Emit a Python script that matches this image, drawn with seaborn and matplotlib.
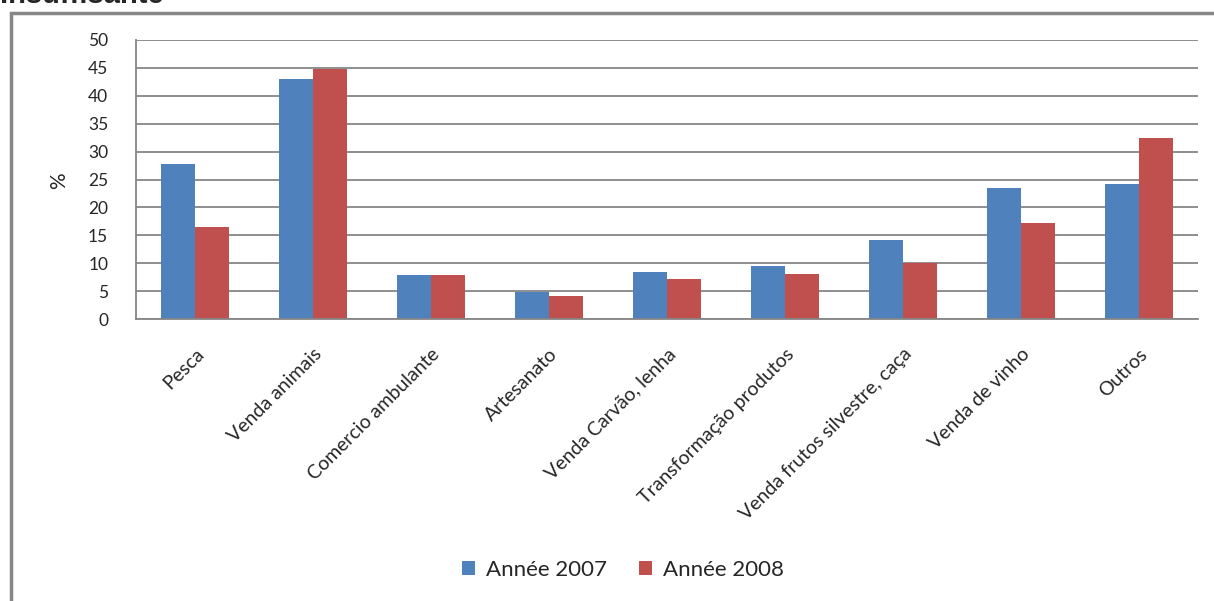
import matplotlib
matplotlib.use("Agg")
import matplotlib.pyplot as plt
import seaborn as sns
import pandas as pd
from matplotlib.patches import Rectangle, Patch

categories = ["Pesca", "Venda animais", "Comercio ambulante", "Artesanato",
              "Venda Carvão, lenha", "Transformação produtos",
              "Venda frutos silvestre, caça", "Venda de vinho", "Outros"]
series_names = ["Année 2007", "Année 2008"]
values_2007 = [27.8, 43.0, 7.9, 4.9, 8.4, 9.5, 14.2, 23.5, 24.2]
values_2008 = [16.5, 44.8, 7.9, 4.1, 7.2, 8.1, 10.0, 17.2, 32.4]
y_ticks = [0, 5, 10, 15, 20, 25, 30, 35, 40, 45, 50]
colors = ["#4F81BD", "#C0504D"]

df = pd.DataFrame({
    "cat": categories * 2,
    "val": values_2007 + values_2008,
    "serie": [series_names[0]] * len(categories) + [series_names[1]] * len(categories),
})

sns.set_theme(style="white")
plt.rcParams["font.family"] = ["Lato", "DejaVu Sans"]

W, H = 1214, 601
fig = plt.figure(figsize=(W / 100, H / 100), dpi=100)
fig.patch.set_facecolor("white")

# outer frame (partially outside the canvas)
fig.add_artist(Rectangle((11 / W, -0.1), 1.2, (601 - 13) / H + 0.1,
                         transform=fig.transFigure, fill=False,
                         edgecolor="#878787", linewidth=2.5))
# cut-off title
fig.text(0.0, 1 - 3 / H, "Insuffisante", family="Liberation Sans",
         fontweight="bold", fontsize=21, ha="left", va="baseline")

ax = fig.add_axes([136 / W, (601 - 319) / H, (1198 - 136) / W, (319 - 40) / H])
sns.barplot(data=df, x="cat", y="val", hue="serie", palette=colors,
            width=0.58, gap=0, saturation=1, ax=ax, legend=False, linewidth=0)

ax.set_ylim(0, 50)
ax.set_xlim(-0.5, len(categories) - 0.5)
ax.set_yticks(y_ticks)
ax.set_yticklabels([str(v) for v in y_ticks], fontsize=12.5)
ax.yaxis.grid(True, color="#868686", linewidth=1.3)
ax.set_axisbelow(True)
for s in ["top", "right"]:
    ax.spines[s].set_visible(False)
for s in ["left", "bottom"]:
    ax.spines[s].set_color("#868686")
    ax.spines[s].set_linewidth(1.3)
ax.tick_params(axis="y", direction="out", length=8, width=1.3, color="#868686", pad=12)

ax.set_xticks(range(len(categories)))
ax.set_xticklabels(categories, rotation=45, ha="right", rotation_mode="anchor", fontsize=14)
ax.tick_params(axis="x", which="major", length=0, pad=19)
ax.set_xticks([i - 0.5 for i in range(len(categories) + 1)], minor=True)
ax.tick_params(axis="x", which="minor", direction="out", length=7, width=1.3, color="#868686")
ax.set_xlabel("")
ax.set_ylabel("%", fontsize=15, rotation=90)
ax.yaxis.set_label_coords((69 - 136) / (1198 - 136), (319 - 181) / (319 - 40))

handles = [Patch(facecolor=c, edgecolor="none") for c in colors]
fig.legend(handles, series_names, loc="center", bbox_to_anchor=(623 / W, 1 - 570 / H),
           ncol=2, frameon=False, fontsize=16, handlelength=0.6, handleheight=0.6,
           columnspacing=1.4, handletextpad=0.5)

fig.savefig("out.png", dpi=100)
